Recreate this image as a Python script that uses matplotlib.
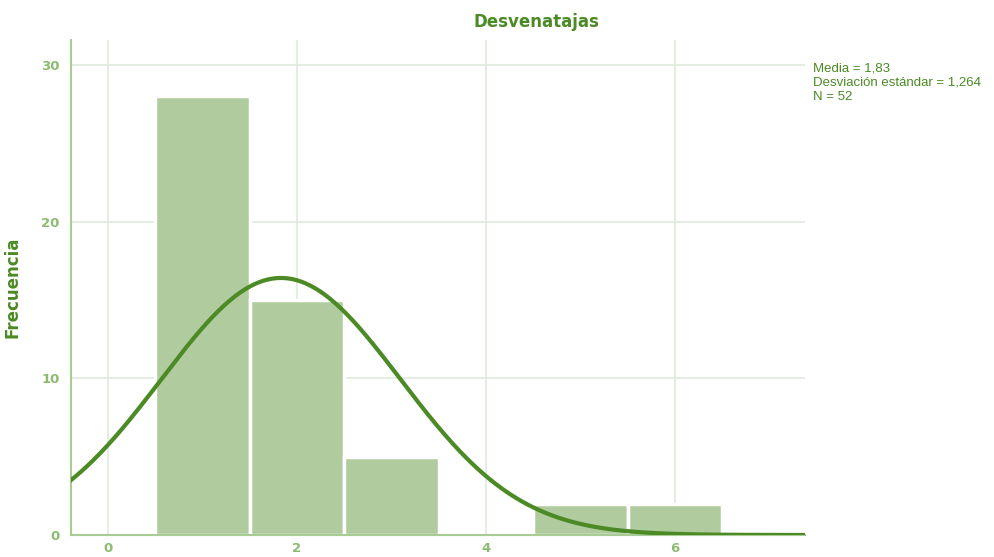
import numpy as np
import matplotlib.pyplot as plt

# histogram data (bin centers, counts)
centers = [1, 2, 3, 5, 6]
counts = [28, 15, 5, 2, 2]
media = 1.83
desv = 1.264
n = 52
bin_w = 1.0

bar_color = '#b0cb9e'
line_color = '#4b8a24'
grid_color = '#dfeadb'
spine_color = '#a9cc94'
tick_color = '#8cbc72'

fig = plt.figure(figsize=(9.94, 5.57), dpi=100)
ax = fig.add_axes([0.0714, 0.0395, 0.7385, 0.8885])

ax.bar(centers, counts, width=bin_w, color=bar_color, edgecolor='white', linewidth=2.5, zorder=2)

xs = np.linspace(-0.4, 7.4, 400)
ys = n * bin_w / (desv * np.sqrt(2 * np.pi)) * np.exp(-0.5 * ((xs - media) / desv) ** 2)
ax.plot(xs, ys, color=line_color, linewidth=3, zorder=3)

ax.set_xlim(-0.392, 7.376)
ax.set_ylim(0, 31.6)
ax.set_xticks([0, 2, 4, 6])
ax.set_yticks([0, 10, 20, 30])
ax.grid(True, color=grid_color, linewidth=1.2, zorder=0)
ax.set_axisbelow(True)

for s in ['top', 'right']:
    ax.spines[s].set_visible(False)
for s in ['left', 'bottom']:
    ax.spines[s].set_color(spine_color)
    ax.spines[s].set_linewidth(1.5)
ax.tick_params(length=0, colors=tick_color, labelsize=9.5)
ax.tick_params(axis='x', pad=5)
ax.tick_params(axis='y', pad=8)
for lab in ax.get_xticklabels() + ax.get_yticklabels():
    lab.set_fontweight('bold')

ax.set_ylabel('Frecuencia', color=line_color, fontsize=12, fontweight='bold', labelpad=14)
fig.text(0.54, 0.96, 'Desvenatajas', ha='center', va='center', color=line_color,
         fontsize=12, fontweight='bold')
fig.text(0.818, 0.887, f'Media = 1,83\nDesviación estándar = 1,264\nN = {n}',
         ha='left', va='top', color=line_color, fontsize=9.5, linespacing=1.2,
         family='Liberation Sans')

fig.savefig('out.png', dpi=100)
